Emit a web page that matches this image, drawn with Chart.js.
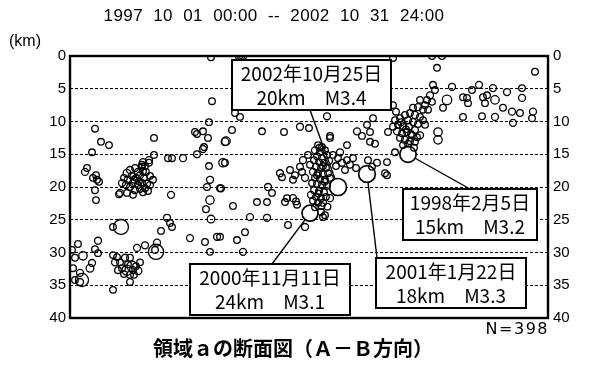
<!DOCTYPE html>
<html>
<head>
<meta charset="UTF-8">
<title>領域ａの断面図</title>
<script src="https://cdn.jsdelivr.net/npm/chart.js"></script>
<style>
  html, body { margin: 0; padding: 0; background: #fff; }
</style>
</head>
<body>
<canvas id="chart" width="590" height="365"></canvas>
<script>
const periodText = "1997  10  01  00:00  --  2002  10  31  24:00";
const sectionTitle = "領域ａの断面図（Ａ－Ｂ方向）";
const countText = "N=398";
const depthUnit = "(km)";

// hypocentres: [distance along A-B, depth (km), magnitude]
const westScatter = [
  [28.2,0.2,0.5],[28.4,6.9,0.5],[27.8,10.1,0.5],[5.0,11.1,0.5],[6.2,13.1,0.5],[7.8,13.6,0.5],[4.4,14.7,0.5],
  [16.8,12.5,0.5],[25.0,11.6,0.5],[25.4,11.9,0.5],[26.6,11.5,0.5],[27.6,12.5,0.5],[31.2,13.0,1.0],[26.8,13.9,0.5],
  [26.6,14.2,0.6],[25.4,15.0,0.5],[16.8,15.1,0.5],[15.8,15.9,0.6],[14.6,16.2,0.6],[14.4,16.6,0.5],[19.6,15.6,0.5],
  [20.4,15.6,0.5],[22.6,15.6,0.6],[27.8,16.8,0.5],[30.6,16.3,1.0],[3.0,17.7,0.6],[3.4,17.1,0.5],[5.2,18.2,0.5],
  [5.4,18.9,0.5],[5.8,19.2,0.5],[4.6,18.6,0.5],[5.0,20.5,0.5],[5.2,22.0,0.5],[28.0,18.9,0.6],[27.4,20.0,0.5],
  [30.2,20.2,0.6],[28.0,22.0,1.0],[27.2,23.4,0.5],[28.2,24.9,0.8]
];
const westCluster = [
  [15.8,16.3,0.5],[14.4,16.9,0.5],[11.4,17.9,0.8],[12.0,17.4,0.6],[13.0,17.1,0.5],[13.6,17.7,0.6],[12.4,18.3,0.5],
  [11.6,18.9,0.7],[10.8,18.6,0.5],[13.2,18.6,0.5],[14.0,18.2,0.6],[14.8,18.6,0.5],[15.2,17.7,0.5],[16.0,18.3,0.5],
  [12.6,19.4,0.6],[13.6,19.7,0.5],[14.4,19.4,0.5],[15.4,19.5,0.6],[12.0,20.0,0.5],[11.2,19.7,0.6],[13.0,20.5,0.5],
  [14.0,20.3,0.5],[15.0,20.2,0.5],[16.0,19.7,0.6],[13.8,19.1,0.5],[12.8,18.9,0.5],[14.6,17.6,0.5],[10.0,20.9,0.6],
  [11.4,20.9,0.5],[12.6,21.2,0.5],[14.6,20.8,0.5],[9.8,21.1,0.5],[16.6,18.9,0.5],[20.2,21.2,0.6],[10.4,19.4,0.6],
  [15.6,20.6,0.5],[15.0,16.8,0.5]
];
const southwest = [
  [10.2,26.1,2.8],[8.6,26.1,0.5],[19.4,24.7,0.6],[20.0,25.5,0.5],[20.4,26.1,0.5],[18.2,26.7,0.5],[24.0,27.8,0.6],
  [27.0,28.4,0.5],[29.4,27.6,0.6],[28.0,29.9,0.5],[1.6,28.7,0.5],[5.6,28.2,0.6],[5.0,29.5,0.5],[5.6,30.1,0.5],
  [1.0,30.8,0.5],[2.6,30.5,1.0],[4.4,31.6,0.6],[4.0,32.4,0.8],[0.6,32.4,0.5],[2.0,33.1,0.6],[2.4,34.2,2.3],
  [2.0,34.5,0.6],[1.0,34.2,0.5],[13.4,29.3,0.6],[15.0,28.9,0.6],[17.4,28.5,0.6],[17.2,29.9,2.9],[17.0,29.6,0.5],
  [8.6,30.4,0.5],[9.4,30.7,0.5],[9.0,31.5,0.6],[10.0,31.5,0.5],[11.0,30.8,0.6],[12.0,30.8,0.5],[11.6,31.8,0.5],
  [12.4,32.1,1.5],[11.4,32.7,1.5],[12.6,32.7,0.6],[13.2,32.1,0.5],[13.6,32.8,0.8],[10.4,32.4,0.5],[9.6,32.7,0.5],
  [10.8,33.3,0.5],[12.0,33.4,0.6],[12.8,33.4,0.5],[14.0,31.5,0.5],[12.0,34.5,0.5],[8.6,35.7,0.5],[0.4,29.6,0.5]
];
const middleUpper = [
  [33.8,0.1,0.5],[34.2,0.1,0.5],[34.6,0.1,0.5],[33.0,8.7,0.5],[34.0,9.3,0.5],[51.4,9.2,0.6],[60.6,9.5,0.5],
  [32.4,11.3,0.5],[38.4,11.5,0.5],[42.8,11.6,0.5],[46.0,10.8,0.6],[47.8,11.0,0.5],[52.0,12.2,0.5],[57.4,11.5,0.6],
  [59.4,10.5,0.5],[60.0,11.6,0.5],[58.4,12.2,0.5],[60.0,13.1,0.5],[61.0,13.4,0.5],[63.6,11.6,0.5],[31.0,13.1,0.8],
  [31.0,16.3,0.5]
];
const centralColumn = [
  [52.0,12.5,0.5],[49.6,13.6,0.5],[50.4,13.9,0.5],[49.0,14.4,0.6],[50.0,14.7,0.5],[51.0,14.4,0.5],[49.4,15.3,0.5],
  [50.4,15.6,0.6],[51.4,15.1,0.5],[48.8,15.9,0.5],[49.8,16.2,0.5],[50.8,16.3,0.5],[51.8,16.0,0.6],[49.2,16.9,0.5],
  [50.2,17.1,0.5],[51.2,17.1,0.5],[48.6,17.7,0.6],[49.6,17.9,0.5],[50.6,18.0,0.5],[51.6,17.9,0.5],[49.0,18.6,0.5],
  [50.0,18.8,0.6],[51.0,18.9,0.5],[52.0,18.6,0.5],[48.4,19.4,0.5],[49.4,19.5,0.5],[50.4,19.7,0.6],[51.4,19.8,0.5],
  [48.8,20.5,0.5],[49.8,20.6,0.5],[50.8,20.8,0.5],[48.2,21.2,0.6],[49.2,21.5,0.5],[50.2,21.7,0.5],[51.2,21.5,0.5],
  [48.6,22.1,0.5],[49.6,22.4,0.5],[50.6,22.4,0.6],[51.0,24.3,0.5],[50.6,24.6,0.5],[50.2,23.8,0.5],[52.0,21.7,0.6],
  [47.6,15.1,0.5],[48.0,16.6,0.5],[49.9,14.0,0.5],[50.6,16.8,0.5],[49.4,18.2,0.5],[50.9,19.2,0.5],[49.7,21.0,0.5],
  [50.3,22.9,0.5],[49.0,23.1,0.5],[51.5,23.0,0.5]
];
const columnFlanks = [
  [47.0,26.1,0.6],[43.6,25.8,0.5],[39.4,24.7,0.6],[36.0,24.6,0.6],[35.0,26.9,0.5],[33.4,28.1,0.5],[34.6,29.9,0.6],
  [30.0,27.6,0.5],[30.0,20.2,0.5],[32.6,22.9,0.5],[55.4,13.6,0.5],[54.0,14.7,0.6],[52.6,15.1,0.5],[55.4,15.9,0.5],
  [56.6,15.6,0.5],[53.6,15.6,0.5],[54.4,16.3,0.6],[56.0,16.6,0.5],[57.2,17.1,0.5],[55.0,17.4,0.5],[53.2,16.8,0.5],
  [61.4,16.3,0.5],[60.4,16.9,0.5],[59.6,15.9,0.5],[63.4,18.2,0.5],[46.6,15.9,0.6],[46.0,16.9,0.5],[45.0,18.2,0.5],
  [44.6,18.9,0.5],[47.0,18.6,0.6],[46.4,17.7,0.5],[42.4,18.5,0.5],[42.0,17.9,0.6],[44.0,17.4,0.5],[39.6,20.0,0.6],
  [40.4,20.9,0.5],[43.4,21.7,0.5],[44.6,21.7,0.6],[43.0,22.3,0.5],[45.4,22.7,0.5],[37.4,22.3,0.5],[39.4,22.3,0.5],
  [45.2,22.2,0.5]
];
const eastCluster = [
  [72.6,4.4,0.5],[73.4,1.8,0.5],[72.4,0.0,0.5],[74.4,0.0,0.5],[64.6,0.3,0.5],[73.0,5.2,0.5],[72.0,6.0,0.6],
  [71.4,6.7,0.5],[72.4,7.0,0.5],[71.0,7.5,0.5],[70.0,6.7,0.5],[69.6,7.8,0.6],[70.6,8.2,0.5],[68.6,7.9,0.5],
  [71.6,8.2,0.5],[68.0,8.7,0.5],[69.0,9.0,0.6],[70.0,9.3,0.5],[67.0,9.0,0.5],[66.0,9.5,0.5],[65.0,9.8,0.5],
  [67.6,9.8,0.5],[68.6,10.1,0.6],[69.6,10.4,0.5],[64.6,10.8,0.5],[65.6,10.5,0.5],[66.6,10.7,0.5],[67.8,10.8,0.5],
  [69.0,11.3,0.5],[65.4,11.5,0.6],[66.4,11.8,0.5],[67.4,11.6,0.5],[68.4,12.1,0.5],[69.4,12.4,0.5],[66.0,12.5,0.5],
  [67.0,12.8,0.6],[68.0,13.0,0.5],[69.0,13.1,0.5],[66.6,13.6,0.5],[67.6,13.4,0.5],[71.0,10.5,0.5],[70.0,12.1,0.6],
  [73.6,11.6,1.0],[73.6,12.8,1.0],[74.6,7.9,0.5],[65.0,14.7,0.5],[63.4,16.2,0.5],[63.0,17.9,0.5],[64.6,7.5,0.5],
  [65.2,8.5,0.5],[67.2,11.2,0.5],[68.2,11.9,0.5],[66.2,10.1,0.5],[70.6,9.8,0.5],[68.8,14.0,0.5]
];
const eastScatter = [
  [93.0,2.4,0.5],[76.4,4.7,0.6],[80.4,5.2,0.5],[81.8,4.4,0.6],[82.6,6.3,0.5],[83.4,6.0,0.5],[84.6,4.9,0.6],
  [87.4,5.5,0.6],[90.4,4.9,0.5],[90.4,6.4,0.6],[79.4,6.4,0.5],[79.6,7.2,0.5],[78.6,6.3,0.5],[85.0,6.7,1.0],
  [83.0,7.2,0.5],[75.4,6.7,1.3],[86.6,7.9,0.5],[88.4,8.5,0.6],[90.0,8.7,0.5],[92.6,8.5,0.6],[92.4,9.5,0.5],
  [88.6,10.2,0.6],[85.0,9.3,0.6],[82.4,9.2,0.5],[78.6,9.3,0.5]
];

// labelled events
const eventDates = ["2002年10月25日", "1998年2月5日", "2001年1月22日", "2000年11月11日"];
const eventDist = [53.6, 67.6, 59.4, 48.0];
const eventDepth = [20, 15, 18, 24];
const eventMag = [3.4, 3.2, 3.3, 3.1];

const quakes = [].concat(westScatter, westCluster, southwest, middleUpper,
  centralColumn, columnFlanks, eastCluster, eastScatter);

function radiusFor(mag) {
  return 2.4 + 1.8 * mag;
}

// label boxes (canvas px) and the point on each box where the leader line starts
const boxes = [
  {x: 232, y: 60, w: 159, h: 50, ax: 310, ay: 110},
  {x: 403, y: 189, w: 134, h: 51, ax: 470, ay: 189},
  {x: 376, y: 258, w: 150, h: 50, ax: 377, ay: 258},
  {x: 190, y: 264, w: 160, h: 51, ax: 272, ay: 264}
];

const sectionPlugin = {
  id: 'section',
  beforeDatasetsDraw(chart) {
    const {ctx, chartArea: a, scales} = chart;
    ctx.save();
    ctx.strokeStyle = '#000';
    ctx.lineWidth = 2.4;
    ctx.strokeRect(a.left, a.top, a.right - a.left, a.bottom - a.top);
    ctx.lineWidth = 1.4;
    boxes.forEach((b, i) => {
      ctx.beginPath();
      ctx.moveTo(b.ax, b.ay);
      ctx.lineTo(scales.x.getPixelForValue(eventDist[i]), scales.y.getPixelForValue(eventDepth[i]));
      ctx.stroke();
    });
    ctx.restore();
  },
  afterDatasetsDraw(chart) {
    const ctx = chart.ctx;
    ctx.save();
    boxes.forEach((b, i) => {
      ctx.fillStyle = '#fff';
      ctx.fillRect(b.x, b.y, b.w, b.h);
      ctx.strokeStyle = '#000';
      ctx.lineWidth = 2;
      ctx.strokeRect(b.x, b.y, b.w, b.h);
      ctx.fillStyle = '#000';
      ctx.font = '19px "Noto Sans CJK JP"';
      ctx.textAlign = 'center';
      ctx.textBaseline = 'middle';
      const cx = b.x + b.w / 2;
      ctx.fillText(eventDates[i], cx, b.y + 14);
      ctx.fillText(eventDepth[i] + 'km　M' + eventMag[i].toFixed(1), cx, b.y + 38);
    });
    ctx.restore();
  },
  afterDraw(chart) {
    const {ctx, chartArea: a} = chart;
    ctx.save();
    ctx.fillStyle = '#000';
    ctx.textBaseline = 'middle';
    ctx.textAlign = 'center';
    ctx.font = '17px "Liberation Sans"';
    ctx.letterSpacing = '0.4px';
    ctx.fillText(periodText, 274, 16);
    ctx.letterSpacing = '0px';
    ctx.font = 'bold 20px "Noto Sans CJK JP"';
    ctx.fillText(sectionTitle, 293, 348);
    ctx.textAlign = 'left';
    ctx.font = '16px "Liberation Sans"';
    ctx.fillText(depthUnit, 9, 42);
    ctx.textAlign = 'right';
    ctx.font = '16px "DejaVu Sans"';
    ctx.letterSpacing = '1.5px';
    ctx.fillText(countText, a.right + 1, 330);
    ctx.restore();
  }
};

const tickFont = {family: 'Liberation Sans', size: 15};

new Chart(document.getElementById('chart'), {
  type: 'scatter',
  data: {
    datasets: [
      {
        data: quakes.map(q => ({x: q[0], y: q[1]})),
        pointRadius: quakes.map(q => radiusFor(q[2])),
        pointBackgroundColor: 'rgba(255,255,255,0)',
        pointBorderColor: '#000',
        pointBorderWidth: 1.3
      },
      {
        data: eventDist.map((d, i) => ({x: d, y: eventDepth[i]})),
        pointRadius: eventMag.map(radiusFor),
        pointBackgroundColor: '#fff',
        pointBorderColor: '#000',
        pointBorderWidth: 1.7
      }
    ]
  },
  options: {
    responsive: false,
    animation: false,
    devicePixelRatio: 1,
    layout: {padding: {top: 56, bottom: 47, left: 0, right: 0}},
    plugins: {legend: {display: false}, tooltip: {enabled: false}},
    scales: {
      x: {type: 'linear', min: 0, max: 95.6, display: false},
      y: {
        position: 'left', min: 0, max: 40, reverse: true,
        afterFit: s => { s.width = 70; },
        ticks: {stepSize: 5, color: '#000', font: tickFont, padding: 4},
        grid: {color: '#000', lineWidth: 1, drawTicks: false},
        border: {display: false, dash: [3, 2]}
      },
      y2: {
        position: 'right', min: 0, max: 40, reverse: true,
        afterFit: s => { s.width = 42; },
        ticks: {stepSize: 5, color: '#000', font: tickFont, padding: 5},
        grid: {display: false, drawTicks: false},
        border: {display: false}
      }
    }
  },
  plugins: [sectionPlugin]
});
</script>
</body>
</html>
